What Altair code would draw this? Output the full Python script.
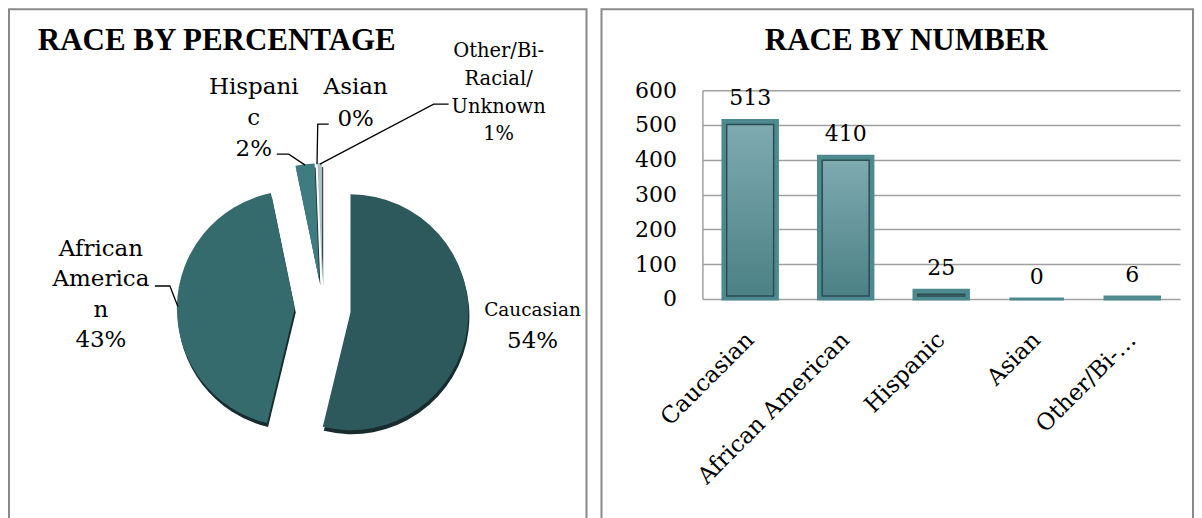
import math
import numpy as np
import pandas as pd
import altair as alt

# ---------------- data ----------------
categories = ["Caucasian", "African American", "Hispanic", "Asian", "Other/Bi-Racial/Unknown"]
counts = [513, 410, 25, 0, 6]
bar_tick_labels = ["Caucasian", "African American", "Hispanic", "Asian", "Other/Bi-…"]
pie_name_lines = [["Caucasian"], ["African", "America", "n"], ["Hispani", "c"], ["Asian"],
                  ["Other/Bi-", "Racial/", "Unknown"]]
pie_pct_labels = ["54%", "43%", "2%", "0%", "1%"]
y_ticks = [0, 100, 200, 300, 400, 500, 600]
pie_title = "RACE BY PERCENTAGE"
bar_title = "RACE BY NUMBER"

# ---------------- layout / style ----------------
PW, PH = 578, 512          # left panel (pie)
BW = 592                   # right panel (bars)
SERIF = "DejaVu Serif"
TITLE_FONT = "Liberation Serif"
slice_colors = ["#2d585c", "#366b6e", "#3e7c80", "#5a8f93", "#aebfc1"]
C0X, C0Y = 314, 300        # pie centre inside the panel
R = 118
EXPLODE = 28

# label layout: x-centre, first baseline, line height, name size, pct size
pie_label_layout = {
    "Caucasian": (524, 307, 32, 18.5, 23),
    "African American": (92, 247, 30.5, 23, 23),
    "Hispanic": (245, 85, 31, 23, 23),
    "Asian": (347, 85, 32, 23, 23),
    "Other/Bi-Racial/Unknown": (490, 48, 27.7, 19.5, 19.5),
}
leader_layout = {
    "African American": [(161, 277), (146, 277)],
    "Hispanic": [(280, 145), (268, 145)],
    "Asian": [(309, 115), (320, 115)],
    "Other/Bi-Racial/Unknown": [(425, 95), (440, 95)],
}

# ---------------- pie geometry from the data ----------------
cnt = np.array(counts, dtype=float)
total = cnt.sum()
t1 = np.cumsum(cnt) / total * 2 * math.pi
t0 = t1 - cnt / total * 2 * math.pi
mid = (t0 + t1) / 2
cx = C0X + EXPLODE * np.sin(mid)
cy = C0Y - EXPLODE * np.cos(mid)
pie_df = pd.DataFrame({"cat": categories, "count": counts, "t0": t0, "t1": t1, "cx": cx, "cy": cy})
pie_df = pie_df[pie_df["count"] > 0]

label_rows = []
for i, cat in enumerate(categories):
    lx, ly, lh, ns, ps = pie_label_layout[cat]
    lines = pie_name_lines[i] + [pie_pct_labels[i]]
    for j, line in enumerate(lines):
        label_rows.append({"x": lx, "y": ly + j * lh, "text": line,
                           "size": ps if j == len(lines) - 1 else ns})
label_df = pd.DataFrame(label_rows)

leader_rows = []
for i, cat in enumerate(categories):
    if cat not in leader_layout:
        continue
    ex = cx[i] + (R - 1) * math.sin(mid[i])
    ey = cy[i] - (R - 1) * math.cos(mid[i])
    pts = [(ex, ey)] + leader_layout[cat]
    for k, (px, py) in enumerate(pts):
        leader_rows.append({"cat": cat, "k": k, "x": px, "y": py})
leader_df = pd.DataFrame(leader_rows)

xs = alt.Scale(domain=[0, PW], range=[0, PW], nice=False, zero=False)
ys = alt.Scale(domain=[0, PH], range=[0, PH], nice=False, zero=False)
ts = alt.Scale(domain=[0, 2 * math.pi], range=[0, 2 * math.pi], nice=False, zero=False)

pie_base = alt.Chart(pie_df).encode(
    x=alt.X("cx:Q", scale=xs, axis=None),
    y=alt.Y("cy:Q", scale=ys, axis=None),
    theta=alt.Theta("t0:Q", scale=ts),
    theta2="t1:Q",
)
pie_shadow = pie_base.mark_arc(outerRadius=R, color="#182c2e", yOffset=4, xOffset=1)
pie_arcs = pie_base.mark_arc(outerRadius=R).encode(
    color=alt.Color("cat:N", scale=alt.Scale(domain=categories, range=slice_colors), legend=None)
)
leaders = alt.Chart(leader_df).mark_line(color="black", strokeWidth=1.3).encode(
    x=alt.X("x:Q", scale=xs, axis=None),
    y=alt.Y("y:Q", scale=ys, axis=None),
    detail="cat:N",
    order="k:Q",
)
pie_labels = alt.Chart(label_df).mark_text(font=SERIF, align="center", baseline="alphabetic",
                                           color="black").encode(
    x=alt.X("x:Q", scale=xs, axis=None),
    y=alt.Y("y:Q", scale=ys, axis=None),
    text="text:N",
    size=alt.Size("size:Q", scale=None, legend=None),
)
pie_title_mark = alt.Chart(pd.DataFrame({"t": [pie_title]})).mark_text(
    font=TITLE_FONT, fontSize=31, fontWeight="bold", align="center", baseline="alphabetic", color="black"
).encode(x=alt.value(208), y=alt.value(41), text="t:N")

left = alt.layer(pie_shadow, pie_arcs, leaders, pie_labels, pie_title_mark).properties(width=PW, height=PH)

# ---------------- bar chart ----------------
bar_df = pd.DataFrame({"label": bar_tick_labels, "count": counts})
Y0, Y600 = 290, 81
X_LEFT, X_RIGHT = 101, 579
UNITS_PER_PX = 600.0 / (Y0 - Y600)
INSET_TOP, INSET_BOTTOM = 4, 3   # px inset of the dark inner frame

yscale = alt.Scale(domain=[0, 600], range=[Y0, Y600], nice=False)
xenc = alt.X("label:N", sort=bar_tick_labels,
             scale=alt.Scale(range=[X_LEFT, X_RIGHT], paddingInner=0.43, paddingOuter=0.215),
             axis=alt.Axis(title=None, labelAngle=-45, labelAlign="right", labelBaseline="middle",
                           labelPadding=37, labelFont=SERIF, labelFontSize=23, labelColor="black",
                           ticks=False, tickSize=0, domain=False, grid=False, offset=-(PH - Y0),
                           labelLimit=400))
yenc = alt.Y("count:Q", scale=yscale,
             axis=alt.Axis(title=None, values=y_ticks, offset=-X_LEFT, grid=True, gridColor="#a0a0a0",
                           gridWidth=1.5, domain=True, domainColor="#a0a0a0", domainWidth=1.5,
                           ticks=False, tickSize=0, labelPadding=26, labelFont=SERIF, labelFontSize=22,
                           labelColor="black"))

bar_grad = alt.Gradient(gradient="linear", x1=0, x2=0, y1=0, y2=1,
                        stops=[alt.GradientStop(color="#7eaab0", offset=0),
                               alt.GradientStop(color="#4b8186", offset=1)])
bars_outer = alt.Chart(bar_df).mark_bar(color="#4d8a8f", stroke="#4d8a8f", strokeWidth=3).encode(x=xenc, y=yenc)
bars_inner = alt.Chart(bar_df).transform_filter("datum.count >= 20").transform_calculate(
    top=f"datum.count - {INSET_TOP * UNITS_PER_PX}",
    bot=f"{INSET_BOTTOM * UNITS_PER_PX}",
).mark_bar(width=47, fill=bar_grad, stroke="#2c4d52", strokeWidth=1.5).encode(
    x=xenc,
    y=alt.Y("top:Q", scale=yscale),
    y2="bot:Q",
)
bar_values = alt.Chart(bar_df).mark_text(dy=-22, baseline="middle", font=SERIF, fontSize=22,
                                          color="black").encode(x=xenc, y=yenc, text="count:Q")
bar_title_mark = alt.Chart(pd.DataFrame({"t": [bar_title]})).mark_text(
    font=TITLE_FONT, fontSize=31, fontWeight="bold", align="center", baseline="alphabetic", color="black"
).encode(x=alt.value(305), y=alt.value(41), text="t:N")

right = alt.layer(bars_outer, bars_inner, bar_values, bar_title_mark).properties(width=BW, height=PH)

chart = alt.hconcat(left, right, spacing=13, padding=0, background="white").configure_view(
    stroke="#8a8a8a", strokeWidth=2
)

chart.save("out.html", embed_options={"renderer": "svg", "actions": False})
